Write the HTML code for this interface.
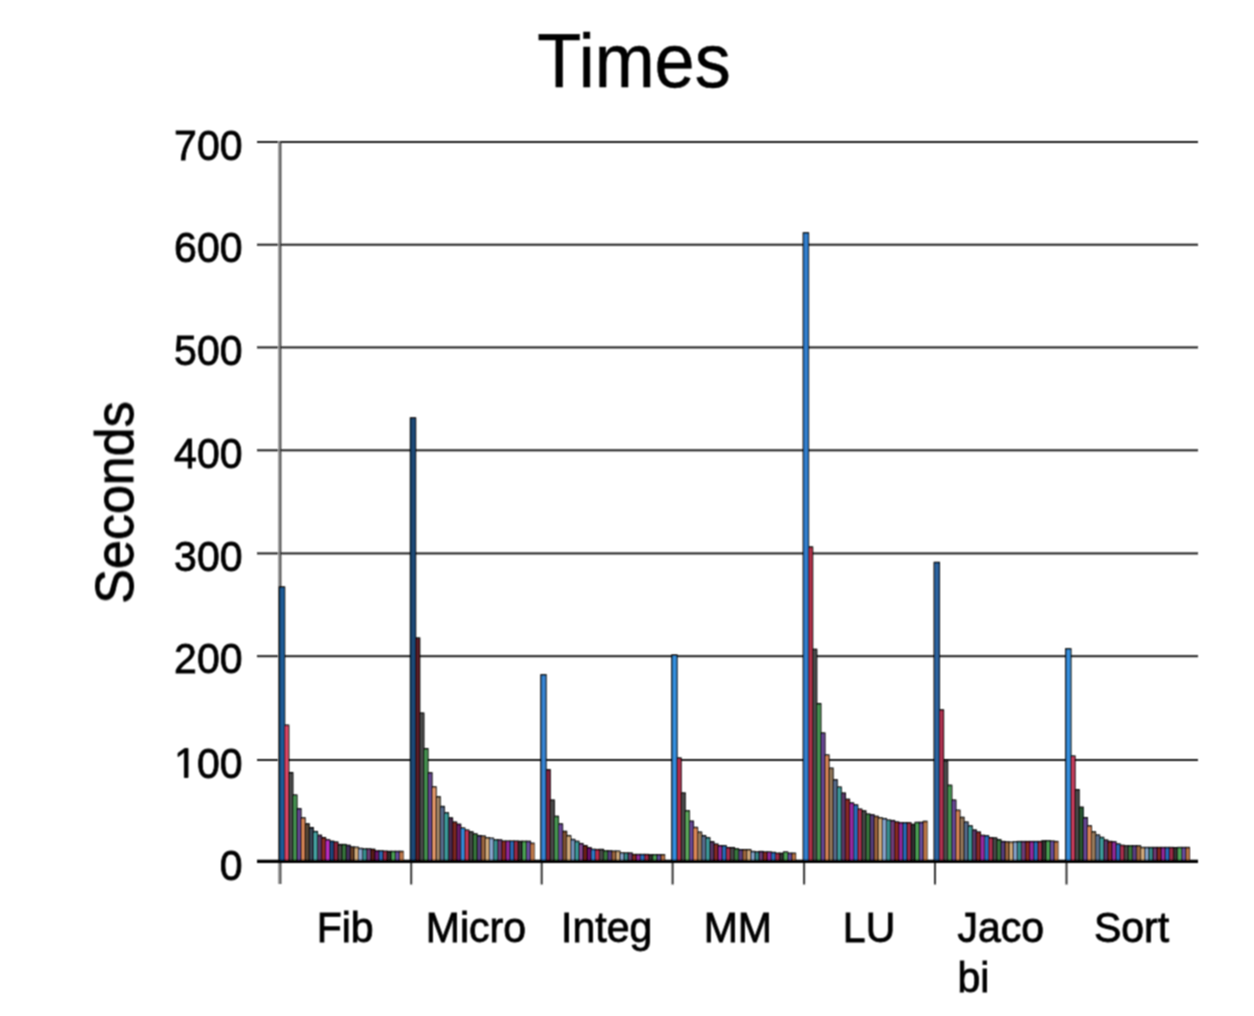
<!DOCTYPE html>
<html><head><meta charset="utf-8"><title>Times</title>
<style>html,body{margin:0;padding:0;background:#fff;}body{width:1254px;height:1016px;overflow:hidden;}svg{display:block;}</style>
</head><body>
<svg width="1254" height="1016" viewBox="0 0 1254 1016"><defs><filter id="bl" x="0" y="0" width="1254" height="1016" filterUnits="userSpaceOnUse"><feConvolveMatrix order="3" kernelMatrix="1 2.0 1 2.0 4.0 2.0 1 2.0 1" divisor="16.0" edgeMode="duplicate"/></filter><filter id="bt" x="0" y="0" width="1254" height="1016" filterUnits="userSpaceOnUse"><feConvolveMatrix order="3" kernelMatrix="1 2.0 1 2.0 4.0 2.0 1 2.0 1" divisor="16.0" edgeMode="duplicate"/></filter><filter id="bg" x="0" y="0" width="1254" height="1016" filterUnits="userSpaceOnUse"><feConvolveMatrix order="3" kernelMatrix="1 2.0 1 2.0 4.0 2.0 1 2.0 1" divisor="16.0" edgeMode="duplicate"/></filter></defs><rect x="0" y="0" width="1254" height="1016" fill="#ffffff"/><g filter="url(#bg)"><rect x="257" y="759.00" width="941" height="2.0" fill="#1c1c1c"/><rect x="257" y="655.20" width="941" height="2.0" fill="#1c1c1c"/><rect x="257" y="552.40" width="941" height="2.0" fill="#1c1c1c"/><rect x="257" y="449.30" width="941" height="2.0" fill="#1c1c1c"/><rect x="257" y="346.40" width="941" height="2.0" fill="#1c1c1c"/><rect x="257" y="243.70" width="941" height="2.0" fill="#1c1c1c"/><rect x="257" y="141.00" width="941" height="2.0" fill="#1c1c1c"/><rect x="278.0" y="141.00" width="1.8" height="743.00" fill="#999"/><rect x="279.8" y="141.00" width="1.5" height="743.00" fill="#333"/><rect x="410.20" y="861" width="2" height="23.5" fill="#333"/><rect x="540.70" y="861" width="2" height="23.5" fill="#333"/><rect x="671.60" y="861" width="2" height="23.5" fill="#333"/><rect x="803.10" y="861" width="2" height="23.5" fill="#333"/><rect x="934.00" y="861" width="2" height="23.5" fill="#333"/><rect x="1065.50" y="861" width="2" height="23.5" fill="#333"/></g><g filter="url(#bl)"><g fill="#000"><rect x="278.80" y="586.34" width="6.40" height="275.66"/><rect x="284.00" y="724.58" width="5.30" height="137.42"/><rect x="288.10" y="772.00" width="5.30" height="90.00"/><rect x="292.20" y="794.42" width="5.30" height="67.58"/><rect x="296.30" y="808.10" width="5.30" height="53.90"/><rect x="300.40" y="817.26" width="5.30" height="44.74"/><rect x="304.50" y="823.22" width="5.30" height="38.78"/><rect x="308.60" y="827.03" width="5.30" height="34.97"/><rect x="312.70" y="830.94" width="5.30" height="31.06"/><rect x="316.80" y="834.64" width="5.30" height="27.36"/><rect x="320.90" y="837.01" width="5.30" height="24.99"/><rect x="325.00" y="839.17" width="5.30" height="22.83"/><rect x="329.10" y="840.61" width="5.30" height="21.39"/><rect x="333.20" y="841.43" width="5.30" height="20.57"/><rect x="337.30" y="843.90" width="5.30" height="18.10"/><rect x="341.40" y="843.90" width="5.30" height="18.10"/><rect x="345.50" y="844.72" width="5.30" height="17.28"/><rect x="349.60" y="846.37" width="5.30" height="15.63"/><rect x="353.70" y="846.67" width="5.30" height="15.33"/><rect x="357.80" y="847.81" width="5.30" height="14.19"/><rect x="361.90" y="848.32" width="5.30" height="13.68"/><rect x="366.00" y="848.32" width="5.30" height="13.68"/><rect x="370.10" y="848.63" width="5.30" height="13.37"/><rect x="374.20" y="850.27" width="5.30" height="11.73"/><rect x="378.30" y="850.27" width="5.30" height="11.73"/><rect x="382.40" y="850.58" width="5.30" height="11.42"/><rect x="386.50" y="850.79" width="5.30" height="11.21"/><rect x="390.60" y="850.79" width="5.30" height="11.21"/><rect x="394.70" y="850.79" width="5.30" height="11.21"/><rect x="398.80" y="850.79" width="4.90" height="11.21"/></g><rect x="280.20" y="587.84" width="3.80" height="272.16" fill="#1f5a96"/><rect x="285.20" y="726.08" width="2.90" height="133.92" fill="#e04868"/><rect x="289.30" y="773.50" width="2.90" height="86.50" fill="#4c4c4c"/><rect x="293.40" y="795.92" width="2.90" height="64.08" fill="#4a9a55"/><rect x="297.50" y="809.60" width="2.90" height="50.40" fill="#6a4a98"/><rect x="301.60" y="818.76" width="2.90" height="41.24" fill="#e08a5a"/><rect x="305.70" y="824.72" width="2.90" height="35.28" fill="#5a4838"/><rect x="309.80" y="828.53" width="2.90" height="31.47" fill="#3a4858"/><rect x="313.90" y="832.44" width="2.90" height="27.56" fill="#48a8a8"/><rect x="318.00" y="836.14" width="2.90" height="23.86" fill="#5a3868"/><rect x="322.10" y="838.51" width="2.90" height="21.49" fill="#8a2a28"/><rect x="326.20" y="840.67" width="2.90" height="19.33" fill="#c030c8"/><rect x="330.30" y="842.11" width="2.90" height="17.89" fill="#1a4a80"/><rect x="334.40" y="842.93" width="2.90" height="17.07" fill="#902840"/><rect x="338.50" y="845.40" width="2.90" height="14.60" fill="#484848"/><rect x="342.60" y="845.40" width="2.90" height="14.60" fill="#3a7a40"/><rect x="346.70" y="846.22" width="2.90" height="13.78" fill="#4a3060"/><rect x="350.80" y="847.87" width="2.90" height="12.13" fill="#6a4028"/><rect x="354.90" y="848.17" width="2.90" height="11.83" fill="#d8b080"/><rect x="359.00" y="849.31" width="2.90" height="10.69" fill="#8aa8d0"/><rect x="363.10" y="849.82" width="2.90" height="10.18" fill="#3a9090"/><rect x="367.20" y="849.82" width="2.90" height="10.18" fill="#703c78"/><rect x="371.30" y="850.13" width="2.90" height="9.87" fill="#5a1a18"/><rect x="375.40" y="851.77" width="2.90" height="8.23" fill="#701870"/><rect x="379.50" y="851.77" width="2.90" height="8.23" fill="#2a70c0"/><rect x="383.60" y="852.08" width="2.90" height="7.92" fill="#a02c48"/><rect x="387.70" y="852.29" width="2.90" height="7.71" fill="#333333"/><rect x="391.80" y="852.29" width="2.90" height="7.71" fill="#50a858"/><rect x="395.90" y="852.29" width="2.90" height="7.71" fill="#6a50a0"/><rect x="400.00" y="852.29" width="2.90" height="7.71" fill="#c07848"/><g fill="#000"><rect x="409.80" y="417.25" width="6.40" height="444.75"/><rect x="415.00" y="637.36" width="5.30" height="224.64"/><rect x="419.10" y="712.45" width="5.30" height="149.55"/><rect x="423.20" y="748.03" width="5.30" height="113.97"/><rect x="427.30" y="772.21" width="5.30" height="89.79"/><rect x="431.40" y="786.30" width="5.30" height="75.70"/><rect x="435.50" y="796.17" width="5.30" height="65.83"/><rect x="439.60" y="805.84" width="5.30" height="56.16"/><rect x="443.70" y="812.22" width="5.30" height="49.78"/><rect x="447.80" y="817.26" width="5.30" height="44.74"/><rect x="451.90" y="821.47" width="5.30" height="40.53"/><rect x="456.00" y="823.63" width="5.30" height="38.37"/><rect x="460.10" y="827.44" width="5.30" height="34.56"/><rect x="464.20" y="829.50" width="5.30" height="32.50"/><rect x="468.30" y="831.25" width="5.30" height="30.75"/><rect x="472.40" y="833.30" width="5.30" height="28.70"/><rect x="476.50" y="835.05" width="5.30" height="26.95"/><rect x="480.60" y="835.46" width="5.30" height="26.54"/><rect x="484.70" y="837.21" width="5.30" height="24.79"/><rect x="488.80" y="837.62" width="5.30" height="24.38"/><rect x="492.90" y="839.27" width="5.30" height="22.73"/><rect x="497.00" y="839.27" width="5.30" height="22.73"/><rect x="501.10" y="840.50" width="5.30" height="21.50"/><rect x="505.20" y="840.50" width="5.30" height="21.50"/><rect x="509.30" y="840.50" width="5.30" height="21.50"/><rect x="513.40" y="840.50" width="5.30" height="21.50"/><rect x="517.50" y="840.71" width="5.30" height="21.29"/><rect x="521.60" y="840.71" width="5.30" height="21.29"/><rect x="525.70" y="840.71" width="5.30" height="21.29"/><rect x="529.80" y="842.66" width="4.90" height="19.34"/></g><rect x="411.20" y="418.75" width="3.80" height="441.25" fill="#1c4a78"/><rect x="416.20" y="638.86" width="2.90" height="221.14" fill="#5a1a28"/><rect x="420.30" y="713.95" width="2.90" height="146.05" fill="#4c4c4c"/><rect x="424.40" y="749.53" width="2.90" height="110.47" fill="#4a9a55"/><rect x="428.50" y="773.71" width="2.90" height="86.29" fill="#6a4a98"/><rect x="432.60" y="787.80" width="2.90" height="72.20" fill="#f0a070"/><rect x="436.70" y="797.67" width="2.90" height="62.33" fill="#a88a6a"/><rect x="440.80" y="807.34" width="2.90" height="52.66" fill="#5a7090"/><rect x="444.90" y="813.72" width="2.90" height="46.28" fill="#40a0a0"/><rect x="449.00" y="818.76" width="2.90" height="41.24" fill="#4a2a50"/><rect x="453.10" y="822.97" width="2.90" height="37.03" fill="#7a2820"/><rect x="457.20" y="825.13" width="2.90" height="34.87" fill="#6a1a6a"/><rect x="461.30" y="828.94" width="2.90" height="31.06" fill="#3590e0"/><rect x="465.40" y="831.00" width="2.90" height="29.00" fill="#c83a58"/><rect x="469.50" y="832.75" width="2.90" height="27.25" fill="#484848"/><rect x="473.60" y="834.80" width="2.90" height="25.20" fill="#3a7a40"/><rect x="477.70" y="836.55" width="2.90" height="23.45" fill="#5a4080"/><rect x="481.80" y="836.96" width="2.90" height="23.04" fill="#a06840"/><rect x="485.90" y="838.71" width="2.90" height="21.29" fill="#d8b080"/><rect x="490.00" y="839.12" width="2.90" height="20.88" fill="#8aa8d0"/><rect x="494.10" y="840.77" width="2.90" height="19.23" fill="#3a9090"/><rect x="498.20" y="840.77" width="2.90" height="19.23" fill="#703c78"/><rect x="502.30" y="842.00" width="2.90" height="18.00" fill="#8a2a20"/><rect x="506.40" y="842.00" width="2.90" height="18.00" fill="#9a2aa0"/><rect x="510.50" y="842.00" width="2.90" height="18.00" fill="#2a70c0"/><rect x="514.60" y="842.00" width="2.90" height="18.00" fill="#a02c48"/><rect x="518.70" y="842.21" width="2.90" height="17.79" fill="#333333"/><rect x="522.80" y="842.21" width="2.90" height="17.79" fill="#50a858"/><rect x="526.90" y="842.21" width="2.90" height="17.79" fill="#6a50a0"/><rect x="531.00" y="844.16" width="2.90" height="15.84" fill="#c07848"/><g fill="#000"><rect x="540.30" y="674.18" width="6.40" height="187.82"/><rect x="545.50" y="769.12" width="5.30" height="92.88"/><rect x="549.60" y="799.46" width="5.30" height="62.54"/><rect x="553.70" y="815.71" width="5.30" height="46.29"/><rect x="557.80" y="823.33" width="5.30" height="38.67"/><rect x="561.90" y="830.73" width="5.30" height="31.27"/><rect x="566.00" y="835.05" width="5.30" height="26.95"/><rect x="570.10" y="838.86" width="5.30" height="23.14"/><rect x="574.20" y="840.71" width="5.30" height="21.29"/><rect x="578.30" y="842.97" width="5.30" height="19.03"/><rect x="582.40" y="845.03" width="5.30" height="16.97"/><rect x="586.50" y="847.09" width="5.30" height="14.91"/><rect x="590.60" y="848.73" width="5.30" height="13.27"/><rect x="594.70" y="848.94" width="5.30" height="13.06"/><rect x="598.80" y="848.83" width="5.30" height="13.17"/><rect x="602.90" y="850.27" width="5.30" height="11.73"/><rect x="607.00" y="850.27" width="5.30" height="11.73"/><rect x="611.10" y="850.58" width="5.30" height="11.42"/><rect x="615.20" y="850.58" width="5.30" height="11.42"/><rect x="619.30" y="852.43" width="5.30" height="9.57"/><rect x="623.40" y="852.43" width="5.30" height="9.57"/><rect x="627.50" y="852.43" width="5.30" height="9.57"/><rect x="631.60" y="853.87" width="5.30" height="8.13"/><rect x="635.70" y="853.87" width="5.30" height="8.13"/><rect x="639.80" y="853.87" width="5.30" height="8.13"/><rect x="643.90" y="853.87" width="5.30" height="8.13"/><rect x="648.00" y="854.18" width="5.30" height="7.82"/><rect x="652.10" y="854.18" width="5.30" height="7.82"/><rect x="656.20" y="854.18" width="5.30" height="7.82"/><rect x="660.30" y="854.18" width="4.90" height="7.82"/></g><rect x="541.70" y="675.68" width="3.80" height="184.32" fill="#3585d5"/><rect x="546.70" y="770.62" width="2.90" height="89.38" fill="#8a2040"/><rect x="550.80" y="800.96" width="2.90" height="59.04" fill="#4c4c4c"/><rect x="554.90" y="817.21" width="2.90" height="42.79" fill="#4a9a55"/><rect x="559.00" y="824.83" width="2.90" height="35.17" fill="#6a4a98"/><rect x="563.10" y="832.23" width="2.90" height="27.77" fill="#7a5030"/><rect x="567.20" y="836.55" width="2.90" height="23.45" fill="#d8b080"/><rect x="571.30" y="840.36" width="2.90" height="19.64" fill="#7a98c0"/><rect x="575.40" y="842.21" width="2.90" height="17.79" fill="#40a0a0"/><rect x="579.50" y="844.47" width="2.90" height="15.53" fill="#8a4a98"/><rect x="583.60" y="846.53" width="2.90" height="13.47" fill="#702018"/><rect x="587.70" y="848.59" width="2.90" height="11.41" fill="#701070"/><rect x="591.80" y="850.23" width="2.90" height="9.77" fill="#3080d0"/><rect x="595.90" y="850.44" width="2.90" height="9.56" fill="#c03050"/><rect x="600.00" y="850.33" width="2.90" height="9.67" fill="#484848"/><rect x="604.10" y="851.77" width="2.90" height="8.23" fill="#3a7a40"/><rect x="608.20" y="851.77" width="2.90" height="8.23" fill="#5a4080"/><rect x="612.30" y="852.08" width="2.90" height="7.92" fill="#a06840"/><rect x="616.40" y="852.08" width="2.90" height="7.92" fill="#d8b080"/><rect x="620.50" y="853.93" width="2.90" height="6.07" fill="#8aa8d0"/><rect x="624.60" y="853.93" width="2.90" height="6.07" fill="#3a9090"/><rect x="628.70" y="853.93" width="2.90" height="6.07" fill="#703c78"/><rect x="632.80" y="855.37" width="2.90" height="4.63" fill="#8a2a20"/><rect x="636.90" y="855.37" width="2.90" height="4.63" fill="#9a2aa0"/><rect x="641.00" y="855.37" width="2.90" height="4.63" fill="#2a70c0"/><rect x="645.10" y="855.37" width="2.90" height="4.63" fill="#a02c48"/><rect x="649.20" y="855.68" width="2.90" height="4.32" fill="#333333"/><rect x="653.30" y="855.68" width="2.90" height="4.32" fill="#50a858"/><rect x="657.40" y="855.68" width="2.90" height="4.32" fill="#6a50a0"/><rect x="661.50" y="855.68" width="2.90" height="4.32" fill="#c07848"/><g fill="#000"><rect x="671.20" y="654.54" width="6.40" height="207.46"/><rect x="676.40" y="757.39" width="5.30" height="104.61"/><rect x="680.50" y="792.37" width="5.30" height="69.63"/><rect x="684.60" y="810.16" width="5.30" height="51.84"/><rect x="688.70" y="820.55" width="5.30" height="41.45"/><rect x="692.80" y="826.82" width="5.30" height="35.18"/><rect x="696.90" y="831.55" width="5.30" height="30.45"/><rect x="701.00" y="835.05" width="5.30" height="26.95"/><rect x="705.10" y="837.11" width="5.30" height="24.89"/><rect x="709.20" y="841.12" width="5.30" height="20.88"/><rect x="713.30" y="843.49" width="5.30" height="18.51"/><rect x="717.40" y="845.13" width="5.30" height="16.87"/><rect x="721.50" y="845.13" width="5.30" height="16.87"/><rect x="725.60" y="846.98" width="5.30" height="15.02"/><rect x="729.70" y="846.98" width="5.30" height="15.02"/><rect x="733.80" y="848.22" width="5.30" height="13.78"/><rect x="737.90" y="849.04" width="5.30" height="12.96"/><rect x="742.00" y="849.04" width="5.30" height="12.96"/><rect x="746.10" y="849.04" width="5.30" height="12.96"/><rect x="750.20" y="850.89" width="5.30" height="11.11"/><rect x="754.30" y="851.41" width="5.30" height="10.59"/><rect x="758.40" y="850.89" width="5.30" height="11.11"/><rect x="762.50" y="851.41" width="5.30" height="10.59"/><rect x="766.60" y="851.41" width="5.30" height="10.59"/><rect x="770.70" y="851.82" width="5.30" height="10.18"/><rect x="774.80" y="852.64" width="5.30" height="9.36"/><rect x="778.90" y="852.64" width="5.30" height="9.36"/><rect x="783.00" y="851.41" width="5.30" height="10.59"/><rect x="787.10" y="852.64" width="5.30" height="9.36"/><rect x="791.20" y="852.64" width="4.90" height="9.36"/></g><rect x="672.60" y="656.04" width="3.80" height="203.96" fill="#3590e0"/><rect x="677.60" y="758.89" width="2.90" height="101.11" fill="#c03050"/><rect x="681.70" y="793.87" width="2.90" height="66.13" fill="#4c4c4c"/><rect x="685.80" y="811.66" width="2.90" height="48.34" fill="#60b060"/><rect x="689.90" y="822.05" width="2.90" height="37.95" fill="#6a4a98"/><rect x="694.00" y="828.32" width="2.90" height="31.68" fill="#e08a5a"/><rect x="698.10" y="833.05" width="2.90" height="26.95" fill="#9a7c5c"/><rect x="702.20" y="836.55" width="2.90" height="23.45" fill="#5a7090"/><rect x="706.30" y="838.61" width="2.90" height="21.39" fill="#40a0a0"/><rect x="710.40" y="842.62" width="2.90" height="17.38" fill="#5a3868"/><rect x="714.50" y="844.99" width="2.90" height="15.01" fill="#8a2a28"/><rect x="718.60" y="846.63" width="2.90" height="13.37" fill="#9a2aa0"/><rect x="722.70" y="846.63" width="2.90" height="13.37" fill="#2a70c0"/><rect x="726.80" y="848.48" width="2.90" height="11.52" fill="#b03050"/><rect x="730.90" y="848.48" width="2.90" height="11.52" fill="#484848"/><rect x="735.00" y="849.72" width="2.90" height="10.28" fill="#3a7a40"/><rect x="739.10" y="850.54" width="2.90" height="9.46" fill="#5a4080"/><rect x="743.20" y="850.54" width="2.90" height="9.46" fill="#a06840"/><rect x="747.30" y="850.54" width="2.90" height="9.46" fill="#d8b080"/><rect x="751.40" y="852.39" width="2.90" height="7.61" fill="#8aa8d0"/><rect x="755.50" y="852.91" width="2.90" height="7.09" fill="#3a9090"/><rect x="759.60" y="852.39" width="2.90" height="7.61" fill="#703c78"/><rect x="763.70" y="852.91" width="2.90" height="7.09" fill="#8a2a20"/><rect x="767.80" y="852.91" width="2.90" height="7.09" fill="#9a2aa0"/><rect x="771.90" y="853.32" width="2.90" height="6.68" fill="#2a70c0"/><rect x="776.00" y="854.14" width="2.90" height="5.86" fill="#a02c48"/><rect x="780.10" y="854.14" width="2.90" height="5.86" fill="#333333"/><rect x="784.20" y="852.91" width="2.90" height="7.09" fill="#50a858"/><rect x="788.30" y="854.14" width="2.90" height="5.86" fill="#6a50a0"/><rect x="792.40" y="854.14" width="2.90" height="5.86" fill="#c07848"/><g fill="#000"><rect x="802.70" y="232.21" width="6.40" height="629.79"/><rect x="807.90" y="546.33" width="5.30" height="315.67"/><rect x="812.00" y="648.67" width="5.30" height="213.33"/><rect x="816.10" y="702.98" width="5.30" height="159.02"/><rect x="820.20" y="732.40" width="5.30" height="129.60"/><rect x="824.30" y="754.41" width="5.30" height="107.59"/><rect x="828.40" y="767.58" width="5.30" height="94.42"/><rect x="832.50" y="779.20" width="5.30" height="82.80"/><rect x="836.60" y="786.50" width="5.30" height="75.50"/><rect x="840.70" y="792.47" width="5.30" height="69.53"/><rect x="844.80" y="798.64" width="5.30" height="63.36"/><rect x="848.90" y="802.34" width="5.30" height="59.66"/><rect x="853.00" y="804.30" width="5.30" height="57.70"/><rect x="857.10" y="808.51" width="5.30" height="53.49"/><rect x="861.20" y="810.26" width="5.30" height="51.74"/><rect x="865.30" y="813.45" width="5.30" height="48.55"/><rect x="869.40" y="814.17" width="5.30" height="47.83"/><rect x="873.50" y="815.71" width="5.30" height="46.29"/><rect x="877.60" y="817.26" width="5.30" height="44.74"/><rect x="881.70" y="817.98" width="5.30" height="44.02"/><rect x="885.80" y="819.52" width="5.30" height="42.48"/><rect x="889.90" y="819.93" width="5.30" height="42.07"/><rect x="894.00" y="821.37" width="5.30" height="40.63"/><rect x="898.10" y="822.19" width="5.30" height="39.81"/><rect x="902.20" y="822.19" width="5.30" height="39.81"/><rect x="906.30" y="822.19" width="5.30" height="39.81"/><rect x="910.40" y="823.74" width="5.30" height="38.26"/><rect x="914.50" y="821.78" width="5.30" height="40.22"/><rect x="918.60" y="821.78" width="5.30" height="40.22"/><rect x="922.70" y="820.75" width="4.90" height="41.25"/></g><rect x="804.10" y="233.71" width="3.80" height="626.29" fill="#3080d0"/><rect x="809.10" y="547.83" width="2.90" height="312.17" fill="#b03048"/><rect x="813.20" y="650.17" width="2.90" height="209.83" fill="#4c4c4c"/><rect x="817.30" y="704.48" width="2.90" height="155.52" fill="#4a9a55"/><rect x="821.40" y="733.90" width="2.90" height="126.10" fill="#6a4a98"/><rect x="825.50" y="755.91" width="2.90" height="104.09" fill="#e08a5a"/><rect x="829.60" y="769.08" width="2.90" height="90.92" fill="#9a7c5c"/><rect x="833.70" y="780.70" width="2.90" height="79.30" fill="#5a7090"/><rect x="837.80" y="788.00" width="2.90" height="72.00" fill="#40a0a0"/><rect x="841.90" y="793.97" width="2.90" height="66.03" fill="#5a3868"/><rect x="846.00" y="800.14" width="2.90" height="59.86" fill="#8a2a28"/><rect x="850.10" y="803.84" width="2.90" height="56.16" fill="#9a2aa0"/><rect x="854.20" y="805.80" width="2.90" height="54.20" fill="#2a70c0"/><rect x="858.30" y="810.01" width="2.90" height="49.99" fill="#b03050"/><rect x="862.40" y="811.76" width="2.90" height="48.24" fill="#484848"/><rect x="866.50" y="814.95" width="2.90" height="45.05" fill="#3a7a40"/><rect x="870.60" y="815.67" width="2.90" height="44.33" fill="#5a4080"/><rect x="874.70" y="817.21" width="2.90" height="42.79" fill="#a06840"/><rect x="878.80" y="818.76" width="2.90" height="41.24" fill="#d8b080"/><rect x="882.90" y="819.48" width="2.90" height="40.52" fill="#8aa8d0"/><rect x="887.00" y="821.02" width="2.90" height="38.98" fill="#3a9090"/><rect x="891.10" y="821.43" width="2.90" height="38.57" fill="#703c78"/><rect x="895.20" y="822.87" width="2.90" height="37.13" fill="#8a2a20"/><rect x="899.30" y="823.69" width="2.90" height="36.31" fill="#9a2aa0"/><rect x="903.40" y="823.69" width="2.90" height="36.31" fill="#2a70c0"/><rect x="907.50" y="823.69" width="2.90" height="36.31" fill="#a02c48"/><rect x="911.60" y="825.24" width="2.90" height="34.76" fill="#333333"/><rect x="915.70" y="823.28" width="2.90" height="36.72" fill="#50a858"/><rect x="919.80" y="823.28" width="2.90" height="36.72" fill="#6a50a0"/><rect x="923.90" y="822.25" width="2.90" height="37.75" fill="#c07848"/><g fill="#000"><rect x="933.60" y="561.76" width="6.40" height="300.24"/><rect x="938.80" y="709.26" width="5.30" height="152.74"/><rect x="942.90" y="759.97" width="5.30" height="102.03"/><rect x="947.00" y="784.65" width="5.30" height="77.35"/><rect x="951.10" y="799.46" width="5.30" height="62.54"/><rect x="955.20" y="809.65" width="5.30" height="52.35"/><rect x="959.30" y="816.74" width="5.30" height="45.26"/><rect x="963.40" y="821.47" width="5.30" height="40.53"/><rect x="967.50" y="825.28" width="5.30" height="36.72"/><rect x="971.60" y="829.39" width="5.30" height="32.61"/><rect x="975.70" y="831.45" width="5.30" height="30.55"/><rect x="979.80" y="834.74" width="5.30" height="27.26"/><rect x="983.90" y="835.15" width="5.30" height="26.85"/><rect x="988.00" y="837.11" width="5.30" height="24.89"/><rect x="992.10" y="837.31" width="5.30" height="24.69"/><rect x="996.20" y="839.06" width="5.30" height="22.94"/><rect x="1000.30" y="840.91" width="5.30" height="21.09"/><rect x="1004.40" y="841.33" width="5.30" height="20.67"/><rect x="1008.50" y="841.63" width="5.30" height="20.37"/><rect x="1012.60" y="841.33" width="5.30" height="20.67"/><rect x="1016.70" y="840.91" width="5.30" height="21.09"/><rect x="1020.80" y="840.91" width="5.30" height="21.09"/><rect x="1024.90" y="840.91" width="5.30" height="21.09"/><rect x="1029.00" y="840.91" width="5.30" height="21.09"/><rect x="1033.10" y="840.91" width="5.30" height="21.09"/><rect x="1037.20" y="840.91" width="5.30" height="21.09"/><rect x="1041.30" y="840.19" width="5.30" height="21.81"/><rect x="1045.40" y="840.19" width="5.30" height="21.81"/><rect x="1049.50" y="840.50" width="5.30" height="21.50"/><rect x="1053.60" y="840.91" width="4.90" height="21.09"/></g><rect x="935.00" y="563.26" width="3.80" height="296.74" fill="#2a64a0"/><rect x="940.00" y="710.76" width="2.90" height="149.24" fill="#b03050"/><rect x="944.10" y="761.47" width="2.90" height="98.53" fill="#4c4c4c"/><rect x="948.20" y="786.15" width="2.90" height="73.85" fill="#4a9a55"/><rect x="952.30" y="800.96" width="2.90" height="59.04" fill="#6a4a98"/><rect x="956.40" y="811.15" width="2.90" height="48.85" fill="#e08a5a"/><rect x="960.50" y="818.24" width="2.90" height="41.76" fill="#9a7c5c"/><rect x="964.60" y="822.97" width="2.90" height="37.03" fill="#5a7090"/><rect x="968.70" y="826.78" width="2.90" height="33.22" fill="#40a0a0"/><rect x="972.80" y="830.89" width="2.90" height="29.11" fill="#5a3868"/><rect x="976.90" y="832.95" width="2.90" height="27.05" fill="#8a2a28"/><rect x="981.00" y="836.24" width="2.90" height="23.76" fill="#9a2aa0"/><rect x="985.10" y="836.65" width="2.90" height="23.35" fill="#2a70c0"/><rect x="989.20" y="838.61" width="2.90" height="21.39" fill="#b03050"/><rect x="993.30" y="838.81" width="2.90" height="21.19" fill="#484848"/><rect x="997.40" y="840.56" width="2.90" height="19.44" fill="#3a7a40"/><rect x="1001.50" y="842.41" width="2.90" height="17.59" fill="#5a4080"/><rect x="1005.60" y="842.83" width="2.90" height="17.17" fill="#a06840"/><rect x="1009.70" y="843.13" width="2.90" height="16.87" fill="#d8b080"/><rect x="1013.80" y="842.83" width="2.90" height="17.17" fill="#8aa8d0"/><rect x="1017.90" y="842.41" width="2.90" height="17.59" fill="#3a9090"/><rect x="1022.00" y="842.41" width="2.90" height="17.59" fill="#703c78"/><rect x="1026.10" y="842.41" width="2.90" height="17.59" fill="#8a2a20"/><rect x="1030.20" y="842.41" width="2.90" height="17.59" fill="#9a2aa0"/><rect x="1034.30" y="842.41" width="2.90" height="17.59" fill="#2a70c0"/><rect x="1038.40" y="842.41" width="2.90" height="17.59" fill="#a02c48"/><rect x="1042.50" y="841.69" width="2.90" height="18.31" fill="#333333"/><rect x="1046.60" y="841.69" width="2.90" height="18.31" fill="#50a858"/><rect x="1050.70" y="842.00" width="2.90" height="18.00" fill="#6a50a0"/><rect x="1054.80" y="842.41" width="2.90" height="17.59" fill="#c07848"/><g fill="#000"><rect x="1065.10" y="648.16" width="6.40" height="213.84"/><rect x="1070.30" y="755.44" width="5.30" height="106.56"/><rect x="1074.40" y="789.07" width="5.30" height="72.93"/><rect x="1078.50" y="806.56" width="5.30" height="55.44"/><rect x="1082.60" y="817.05" width="5.30" height="44.95"/><rect x="1086.70" y="825.28" width="5.30" height="36.72"/><rect x="1090.80" y="831.25" width="5.30" height="30.75"/><rect x="1094.90" y="834.43" width="5.30" height="27.57"/><rect x="1099.00" y="836.80" width="5.30" height="25.20"/><rect x="1103.10" y="839.47" width="5.30" height="22.53"/><rect x="1107.20" y="840.81" width="5.30" height="21.19"/><rect x="1111.30" y="841.22" width="5.30" height="20.78"/><rect x="1115.40" y="843.38" width="5.30" height="18.62"/><rect x="1119.50" y="844.72" width="5.30" height="17.28"/><rect x="1123.60" y="845.23" width="5.30" height="16.77"/><rect x="1127.70" y="845.23" width="5.30" height="16.77"/><rect x="1131.80" y="845.23" width="5.30" height="16.77"/><rect x="1135.90" y="845.23" width="5.30" height="16.77"/><rect x="1140.00" y="846.88" width="5.30" height="15.12"/><rect x="1144.10" y="846.88" width="5.30" height="15.12"/><rect x="1148.20" y="846.88" width="5.30" height="15.12"/><rect x="1152.30" y="846.88" width="5.30" height="15.12"/><rect x="1156.40" y="846.88" width="5.30" height="15.12"/><rect x="1160.50" y="846.88" width="5.30" height="15.12"/><rect x="1164.60" y="846.88" width="5.30" height="15.12"/><rect x="1168.70" y="846.88" width="5.30" height="15.12"/><rect x="1172.80" y="847.09" width="5.30" height="14.91"/><rect x="1176.90" y="846.88" width="5.30" height="15.12"/><rect x="1181.00" y="846.88" width="5.30" height="15.12"/><rect x="1185.10" y="846.88" width="4.90" height="15.12"/></g><rect x="1066.50" y="649.66" width="3.80" height="210.34" fill="#3590e0"/><rect x="1071.50" y="756.94" width="2.90" height="103.06" fill="#d04060"/><rect x="1075.60" y="790.57" width="2.90" height="69.43" fill="#4c4c4c"/><rect x="1079.70" y="808.06" width="2.90" height="51.94" fill="#2a5a30"/><rect x="1083.80" y="818.55" width="2.90" height="41.45" fill="#6a4a98"/><rect x="1087.90" y="826.78" width="2.90" height="33.22" fill="#e08a5a"/><rect x="1092.00" y="832.75" width="2.90" height="27.25" fill="#9a7c5c"/><rect x="1096.10" y="835.93" width="2.90" height="24.07" fill="#5a7090"/><rect x="1100.20" y="838.30" width="2.90" height="21.70" fill="#40a0a0"/><rect x="1104.30" y="840.97" width="2.90" height="19.03" fill="#5a3868"/><rect x="1108.40" y="842.31" width="2.90" height="17.69" fill="#8a2a28"/><rect x="1112.50" y="842.72" width="2.90" height="17.28" fill="#9a2aa0"/><rect x="1116.60" y="844.88" width="2.90" height="15.12" fill="#2a70c0"/><rect x="1120.70" y="846.22" width="2.90" height="13.78" fill="#b03050"/><rect x="1124.80" y="846.73" width="2.90" height="13.27" fill="#484848"/><rect x="1128.90" y="846.73" width="2.90" height="13.27" fill="#3a7a40"/><rect x="1133.00" y="846.73" width="2.90" height="13.27" fill="#5a4080"/><rect x="1137.10" y="846.73" width="2.90" height="13.27" fill="#a06840"/><rect x="1141.20" y="848.38" width="2.90" height="11.62" fill="#d8b080"/><rect x="1145.30" y="848.38" width="2.90" height="11.62" fill="#8aa8d0"/><rect x="1149.40" y="848.38" width="2.90" height="11.62" fill="#3a9090"/><rect x="1153.50" y="848.38" width="2.90" height="11.62" fill="#703c78"/><rect x="1157.60" y="848.38" width="2.90" height="11.62" fill="#8a2a20"/><rect x="1161.70" y="848.38" width="2.90" height="11.62" fill="#9a2aa0"/><rect x="1165.80" y="848.38" width="2.90" height="11.62" fill="#2a70c0"/><rect x="1169.90" y="848.38" width="2.90" height="11.62" fill="#a02c48"/><rect x="1174.00" y="848.59" width="2.90" height="11.41" fill="#333333"/><rect x="1178.10" y="848.38" width="2.90" height="11.62" fill="#50a858"/><rect x="1182.20" y="848.38" width="2.90" height="11.62" fill="#6a50a0"/><rect x="1186.30" y="848.38" width="2.90" height="11.62" fill="#c07848"/><rect x="257" y="859.7" width="941" height="3.3" fill="#000"/></g><g filter="url(#bt)"><text transform="translate(242.50 879.80) scale(1 1.030)" x="0" y="0" font-family='"Liberation Sans", sans-serif' font-size="41" text-anchor="end" fill="#000" stroke="#000" stroke-width="0.8">0</text><path transform="translate(174.09 777.50) scale(0.020020 -0.020620)" d="M515 0L515 1237L197 1010L197 1180L530 1409L696 1409L696 0Z" fill="#000" stroke="#000" stroke-width="40.0" stroke-linejoin="miter"/><text transform="translate(242.50 777.50) scale(1 1.030)" x="0" y="0" font-family='"Liberation Sans", sans-serif' font-size="41" text-anchor="end" fill="#000" stroke="#000" stroke-width="0.8">00</text><text transform="translate(242.50 673.20) scale(1 1.030)" x="0" y="0" font-family='"Liberation Sans", sans-serif' font-size="41" text-anchor="end" fill="#000" stroke="#000" stroke-width="0.8">200</text><text transform="translate(242.50 570.90) scale(1 1.030)" x="0" y="0" font-family='"Liberation Sans", sans-serif' font-size="41" text-anchor="end" fill="#000" stroke="#000" stroke-width="0.8">300</text><text transform="translate(242.50 467.80) scale(1 1.030)" x="0" y="0" font-family='"Liberation Sans", sans-serif' font-size="41" text-anchor="end" fill="#000" stroke="#000" stroke-width="0.8">400</text><text transform="translate(242.50 364.90) scale(1 1.030)" x="0" y="0" font-family='"Liberation Sans", sans-serif' font-size="41" text-anchor="end" fill="#000" stroke="#000" stroke-width="0.8">500</text><text transform="translate(242.50 262.20) scale(1 1.030)" x="0" y="0" font-family='"Liberation Sans", sans-serif' font-size="41" text-anchor="end" fill="#000" stroke="#000" stroke-width="0.8">600</text><text transform="translate(242.50 159.50) scale(1 1.030)" x="0" y="0" font-family='"Liberation Sans", sans-serif' font-size="41" text-anchor="end" fill="#000" stroke="#000" stroke-width="0.8">700</text><text transform="translate(634.00 86.70) scale(1 1.050)" x="0" y="0" font-family='"Liberation Sans", sans-serif' font-size="72" text-anchor="middle" fill="#000" stroke="#000" stroke-width="0.5">Times</text><text transform="translate(132.70 502.50) rotate(-90) scale(1 1.035)" x="0" y="0" font-family='"Liberation Sans", sans-serif' font-size="52" text-anchor="middle" fill="#000" stroke="#000" stroke-width="0.8">Seconds</text><text transform="translate(345.20 942.20) scale(1 1.050)" x="0" y="0" font-family='"Liberation Sans", sans-serif' font-size="41" text-anchor="middle" fill="#000" stroke="#000" stroke-width="0.8">Fib</text><text transform="translate(475.95 942.20) scale(1 1.050)" x="0" y="0" font-family='"Liberation Sans", sans-serif' font-size="41" text-anchor="middle" fill="#000" stroke="#000" stroke-width="0.8">Micro</text><text transform="translate(606.65 942.20) scale(1 1.050)" x="0" y="0" font-family='"Liberation Sans", sans-serif' font-size="41" text-anchor="middle" fill="#000" stroke="#000" stroke-width="0.8">Integ</text><text transform="translate(737.85 942.20) scale(1 1.050)" x="0" y="0" font-family='"Liberation Sans", sans-serif' font-size="41" text-anchor="middle" fill="#000" stroke="#000" stroke-width="0.8">MM</text><text transform="translate(869.05 942.20) scale(1 1.050)" x="0" y="0" font-family='"Liberation Sans", sans-serif' font-size="41" text-anchor="middle" fill="#000" stroke="#000" stroke-width="0.8">LU</text><text transform="translate(957.50 942.20) scale(1 1.050)" x="0" y="0" font-family='"Liberation Sans", sans-serif' font-size="41" text-anchor="start" fill="#000" stroke="#000" stroke-width="0.8">Jaco</text><text transform="translate(957.50 991.90) scale(1 1.050)" x="0" y="0" font-family='"Liberation Sans", sans-serif' font-size="41" text-anchor="start" fill="#000" stroke="#000" stroke-width="0.8">bi</text><text transform="translate(1131.50 942.20) scale(1 1.050)" x="0" y="0" font-family='"Liberation Sans", sans-serif' font-size="41" text-anchor="middle" fill="#000" stroke="#000" stroke-width="0.8">Sort</text></g></svg>
</body></html>
